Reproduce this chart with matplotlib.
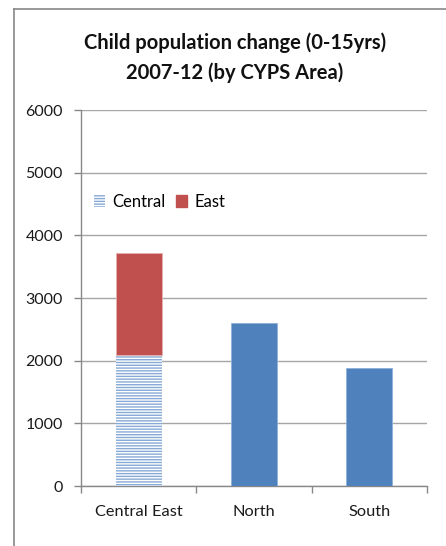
import matplotlib
matplotlib.use("Agg")
import matplotlib.pyplot as plt
from matplotlib.lines import Line2D
from matplotlib.patches import Patch
import numpy as np

categories = ["Central East", "North", "South"]
central = [2090, 0, 0]
east = [1630, 0, 0]
area_totals = [0, 2600, 1880]
yticks = [0, 1000, 2000, 3000, 4000, 5000, 6000]

plt.rcParams['font.family'] = ['Lato', 'DejaVu Sans']
plt.rcParams['hatch.linewidth'] = 1.0

fig = plt.figure(figsize=(4.46, 5.46), dpi=100)
ax = fig.add_axes([81/446, 1-486/546, 346/446, 376/546])

x = np.arange(len(categories))
w = 0.4
blue = '#4F81BD'
red = '#C0504D'
stripe = '#86A9D6'

ax.bar(x[0], central[0], width=w, facecolor='white', edgecolor=stripe,
       hatch='------', linewidth=0, zorder=3)
ax.bar(x[0], east[0], width=w, bottom=central[0], color=red, edgecolor='#E8B0AE',
       linewidth=0.6, zorder=3)
ax.bar(x[1:], area_totals[1:], width=w, color=blue, edgecolor='#8DB0DA',
       linewidth=0.6, zorder=3)

ax.set_xlim(-0.5, 2.5)
ax.set_ylim(0, 6000)
ax.set_yticks(yticks)
ax.set_yticklabels([str(v) for v in yticks], fontsize=11.5, color='#1a1a1a')
ax.set_xticks(x)
ax.set_xticklabels(categories, fontsize=11.8, color='#1a1a1a')
ax.set_xticks([-0.5, 0.5, 1.5, 2.5], minor=True)
ax.tick_params(axis='x', which='major', length=0, pad=14)
ax.tick_params(axis='x', which='minor', length=5, color='#888888', width=1)
ax.tick_params(axis='y', length=5, color='#888888', width=1, pad=8)

ax.yaxis.grid(True, color='#A6A6A6', linewidth=1)
ax.set_axisbelow(True)
for s in ['top', 'right']:
    ax.spines[s].set_visible(False)
for s in ['left', 'bottom']:
    ax.spines[s].set_color('#888888')
    ax.spines[s].set_linewidth(1)

handles = [Patch(facecolor='white', edgecolor=stripe, hatch='------', linewidth=0),
           Patch(facecolor=red, edgecolor=red)]
ax.legend(handles, ['Central', 'East'], loc='center left', bbox_to_anchor=(-0.005, 0.755),
          ncol=2, frameon=False, fontsize=12, handlelength=0.65, handleheight=0.7,
          handletextpad=0.45, columnspacing=0.6)

fig.text(235/446, 1-43/546, "Child population change (0-15yrs)", ha='center', va='center',
         fontsize=14.5, fontweight='bold', color='#111111')
fig.text(235/446, 1-73/546, "2007-12 (by CYPS Area)", ha='center', va='center',
         fontsize=14.5, fontweight='bold', color='#111111')

fig.add_artist(Line2D([14/446, 1.0], [1-9/546, 1-9/546], color='#888888', linewidth=1.2,
                      transform=fig.transFigure))
fig.add_artist(Line2D([14/446, 14/446], [0, 1-9/546], color='#888888', linewidth=1.2,
                      transform=fig.transFigure))

fig.savefig("out.png", dpi=100)
